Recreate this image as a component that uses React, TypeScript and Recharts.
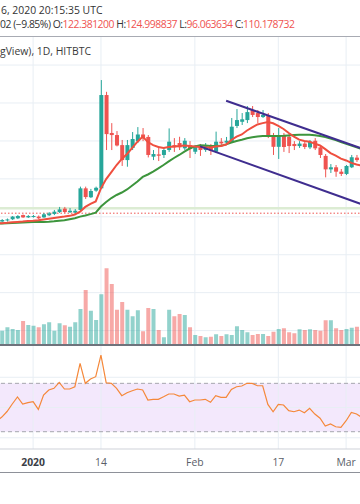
import React from 'react';
import { ComposedChart, Bar, Line, XAxis, YAxis, ReferenceLine, ReferenceArea, Cell } from 'recharts';

// ---------- data ----------
const dates = [
  'Dec 25', 'Dec 26', 'Dec 27', 'Dec 28', 'Dec 29', 'Dec 30', 'Dec 31',
  'Jan 1', 'Jan 2', 'Jan 3', 'Jan 4', 'Jan 5', 'Jan 6', 'Jan 7', 'Jan 8', 'Jan 9', 'Jan 10',
  'Jan 11', 'Jan 12', 'Jan 13', 'Jan 14', 'Jan 15', 'Jan 16', 'Jan 17', 'Jan 18', 'Jan 19', 'Jan 20',
  'Jan 21', 'Jan 22', 'Jan 23', 'Jan 24', 'Jan 25', 'Jan 26', 'Jan 27', 'Jan 28', 'Jan 29', 'Jan 30', 'Jan 31',
  'Feb 1', 'Feb 2', 'Feb 3', 'Feb 4', 'Feb 5', 'Feb 6', 'Feb 7', 'Feb 8', 'Feb 9', 'Feb 10',
  'Feb 11', 'Feb 12', 'Feb 13', 'Feb 14', 'Feb 15', 'Feb 16', 'Feb 17', 'Feb 18', 'Feb 19', 'Feb 20',
  'Feb 21', 'Feb 22', 'Feb 23', 'Feb 24', 'Feb 25', 'Feb 26', 'Feb 27', 'Feb 28', 'Feb 29',
  'Mar 1', 'Mar 2', 'Mar 3', 'Mar 4',
];

const opens = [
  77.3, 77.5, 78.1, 78.7, 79.2, 80.9, 79.7,
  80.0, 80.1, 79.7, 80.8, 81.5, 82.5, 84.3, 82.4, 82.2, 83.6,
  95.0, 90.3, 93.8, 95.0, 144.2, 124.2, 123.1, 117.8, 109.9, 116.3,
  119.9, 123.4, 122.1, 111.7, 112.9, 112.6, 115.2, 117.8, 118.9, 116.1, 117.8,
  114.3, 116.8, 115.2, 117.3, 114.3, 119.6, 119.1, 119.6, 127.9, 130.1,
  131.0, 136.3, 134.7, 132.6, 133.1, 122.2, 116.9, 122.6, 122.1, 118.4,
  117.3, 118.6, 116.6, 120.1, 116.6, 112.1, 105.0, 106.1, 103.8,
  102.6, 106.1, 111.2, 111.5,
];
const highs = [
  78.3, 78.8, 79.1, 80.4, 80.9, 81.2, 80.9,
  80.9, 80.7, 82.0, 82.5, 83.6, 85.2, 85.2, 84.6, 84.1, 95.9,
  95.9, 94.7, 95.9, 152.1, 145.9, 129.4, 125.2, 120.5, 120.5, 124.7,
  127.3, 126.8, 123.1, 115.2, 117.3, 116.8, 126.6, 121.5, 122.2, 121.5, 119.9,
  117.8, 118.4, 118.9, 118.4, 124.9, 121.5, 122.1, 132.1, 136.8, 134.7,
  138.4, 138.4, 136.3, 136.3, 134.7, 124.2, 126.8, 124.2, 123.6, 119.9,
  119.9, 119.9, 120.5, 121.5, 117.3, 113.1, 107.8, 107.3, 105.2,
  107.3, 112.6, 112.6, 113.1,
];
const lows = [
  76.7, 77.3, 77.5, 78.3, 78.8, 79.4, 79.4,
  79.6, 78.8, 79.4, 80.4, 80.9, 82.0, 82.0, 82.0, 81.7, 83.1,
  89.4, 89.9, 93.2, 94.7, 115.2, 115.2, 117.1, 106.8, 106.4, 115.2,
  118.9, 119.9, 111.3, 109.9, 109.4, 111.0, 114.2, 114.2, 115.2, 115.2, 111.0,
  113.1, 112.1, 114.2, 112.6, 113.6, 117.8, 118.4, 118.9, 126.8, 128.4,
  129.4, 132.6, 129.4, 132.1, 121.5, 112.6, 110.5, 114.2, 113.6, 115.2,
  116.3, 115.7, 115.7, 115.2, 111.0, 100.8, 103.1, 101.1, 101.5,
  102.0, 105.7, 108.9, 108.9,
];
const closes = [
  77.8, 78.3, 78.6, 80.1, 80.4, 79.7, 80.4,
  80.4, 79.2, 81.3, 81.8, 82.7, 83.9, 82.5, 83.2, 83.2, 95.0,
  90.4, 93.6, 95.3, 144.2, 123.6, 123.1, 117.6, 109.9, 117.8, 121.0,
  123.4, 121.3, 112.6, 113.1, 112.2, 115.2, 119.6, 116.6, 116.6, 120.1, 115.7,
  116.8, 115.2, 117.3, 114.7, 119.6, 118.7, 120.1, 127.5, 131.0, 131.4,
  135.2, 133.7, 132.6, 133.7, 122.2, 116.9, 122.6, 116.8, 117.3, 117.3,
  118.6, 116.8, 119.6, 116.1, 112.6, 105.0, 106.1, 103.8, 102.6,
  106.8, 111.4, 109.9, 109.9,
];
const volumes = [
  120, 143, 177, 160, 150, 240, 200,
  193, 177, 207, 227, 143, 217, 197, 183, 227, 360,
  550, 343, 250, 507, 767, 610, 353, 430, 353, 287,
  347, 137, 370, 360, 150, 77, 353, 287, 310, 300, 177,
  100, 90, 77, 83, 107, 90, 107, 100, 187, 150,
  127, 100, 110, 110, 90, 133, 160, 167, 127, 117,
  157, 150, 157, 150, 143, 247, 247, 167, 150,
  160, 173, 183, 150,
];
const emaFast = [
  76.5, 76.6, 76.8, 77.1, 77.3, 77.5, 77.8,
  77.9, 78.2, 78.6, 79.0, 79.4, 79.8, 80.1, 80.5, 81.2, 82.7,
  85.2, 86.8, 88.1, 95.0, 99.9, 103.6, 107.3, 110.5, 113.1, 116.3,
  119.6, 122.3, 119.4, 117.8, 116.8, 116.3, 116.8, 117.1, 117.3, 117.6, 117.3,
  117.1, 116.8, 116.6, 116.6, 117.1, 117.3, 118.1, 120.5, 122.3, 123.4,
  125.5, 127.1, 128.7, 129.4, 130.0, 129.3, 127.9, 126.3, 124.2, 122.3,
  120.7, 120.0, 119.6, 118.6, 117.6, 115.7, 113.6, 112.3, 110.7,
  109.7, 108.4, 107.6, 107.0,
];
const smaSlow = [
  76.3, 76.5, 76.6, 76.7, 76.8, 77.0, 77.1,
  77.2, 77.3, 77.3, 77.4, 77.6, 77.9, 78.2, 78.7, 79.2, 80.1,
  80.7, 81.4, 82.2, 85.4, 87.8, 89.9, 91.5, 92.8, 94.4, 96.5,
  98.6, 101.0, 102.3, 103.8, 105.5, 107.3, 109.2, 111.0, 112.6, 114.4, 116.0,
  117.1, 117.7, 117.6, 117.3, 117.3, 117.4, 118.2, 119.2, 120.0, 120.6,
  121.4, 121.9, 122.3, 122.6, 122.6, 122.6, 122.6, 122.7, 122.9, 123.1,
  123.2, 123.3, 123.3, 123.0, 122.6, 122.0, 121.3, 120.4, 119.4,
  118.5, 117.6, 116.6, 115.8,
];
const rsiValues = [
  38.8, 42.1, 46.7, 52.9, 58.7, 52.9, 54.1,
  54.8, 48.5, 60.3, 64.5, 65.9, 70.8, 65.3, 65.3, 67.2, 86.5,
  70.0, 73.6, 75.5, 93.4, 70.5, 70.0, 65.9, 59.8, 62.2, 63.9,
  65.3, 64.5, 56.2, 56.8, 56.8, 58.9, 61.2, 61.2, 59.5, 60.3, 54.8,
  56.2, 56.2, 56.8, 54.3, 59.8, 58.4, 58.4, 65.0, 67.2, 67.8,
  70.0, 70.0, 68.0, 68.0, 52.6, 46.5, 52.6, 52.1, 47.4, 46.5,
  47.9, 45.7, 49.3, 44.6, 41.1, 34.7, 36.4, 34.1, 33.6,
  39.1, 46.0, 44.6, 41.9,
];

const priceGridValues = [20, 40, 60, 80, 100, 120, 140, 160];
const timeTicks = ['Jan 1', 'Jan 14', 'Feb 1', 'Feb 17', 'Mar 1'];
const timeTickLabels = ['2020', '14', 'Feb', '17', 'Mar'];
const rsiGridValues = [25, 50, 75];
const rsiBandValues = [30, 70];
const upperTrend = [{ date: 'Feb 7', price: 141.2 }, { date: 'Mar 4', price: 116.0 }];
const lowerTrend = [{ date: 'Feb 2', price: 117.1 }, { date: 'Mar 4', price: 86.6 }];
const dottedPriceLevel = 81.9;
const greenBandLevel = 84.5;

const PRICE_DOMAIN = [12.4, 174.8];
const VOLUME_DOMAIN = [0, 3080];
const RSI_DOMAIN = [15.7, 101.7];

const rows = dates.map((d, i) => ({
  date: d,
  open: opens[i],
  high: highs[i],
  low: lows[i],
  close: closes[i],
  volume: volumes[i],
  ema: emaFast[i],
  sma: smaSlow[i],
  rsi: rsiValues[i],
}));

// ---------- styling / layout ----------
const FONT = '"Open Sans", "Noto Sans", sans-serif';
const UP = '#26a69a';
const DOWN = '#ef5350';
const GRID = '#e8eef4';
const EMA_COLOR = '#ef4f3f';
const SMA_COLOR = '#3d953d';
const TREND_COLOR = '#3f2d8f';
const RSI_COLOR = '#f5883a';

const PLOT_LEFT = -5.6;
const PLOT_W = 370.4;
const PRICE_TOP = 37;
const PRICE_H = 308;
const RSI_TOP = 345;
const RSI_H = 104;
const AXIS_H = 24;
const M = { top: 0, right: 0, bottom: 0, left: 0 };

const CandleShape = (props: any) => {
  const { x, y, width, height } = props;
  const d = props.payload ?? props;
  if (x == null || y == null || d == null) return null;
  const top = Math.min(y, y + height);
  const h = Math.abs(height);
  const span = d.high - d.low;
  const ppu = span > 0 ? h / span : 0;
  const color = d.close >= d.open ? UP : DOWN;
  const bodyTop = top + (d.high - Math.max(d.open, d.close)) * ppu;
  const bodyH = Math.max(1, Math.abs(d.close - d.open) * ppu);
  const cx = x + width / 2;
  return (
    <g>
      <line x1={cx} x2={cx} y1={top} y2={top + h} stroke={color} strokeWidth={1} />
      <rect x={x} y={bodyTop} width={width} height={bodyH} fill={color} />
    </g>
  );
};

const TimeTick = (props: any) => {
  const { x, y, payload } = props;
  const idx = timeTicks.indexOf(payload?.value);
  const label = idx >= 0 ? timeTickLabels[idx] : '';
  const bold = label === '2020';
  return (
    <text
      x={x}
      y={y}
      dy="0.71em"
      textAnchor="middle"
      fontSize={10.4}
      fontFamily={FONT}
      fontWeight={bold ? 700 : 400}
      fill={bold ? '#3b3e47' : '#5a5e69'}
    >
      {label}
    </text>
  );
};

const hiddenX = <XAxis dataKey="date" type="category" scale="band" hide />;

export default function App() {
  return (
    <div
      style={{
        position: 'absolute',
        left: 0,
        top: 0,
        width: 360,
        height: 504,
        overflow: 'hidden',
        background: '#ffffff',
        fontFamily: FONT,
      }}
    >
      {/* price pane grid */}
      <div style={{ position: 'absolute', left: PLOT_LEFT, top: PRICE_TOP }}>
        <ComposedChart width={PLOT_W} height={PRICE_H} data={rows} margin={M}>
          {hiddenX}
          <YAxis hide domain={PRICE_DOMAIN} allowDataOverflow type="number" />
          {priceGridValues.map((v) => (
            <ReferenceLine key={'h' + v} y={v} stroke={GRID} strokeWidth={1} />
          ))}
          {timeTicks.map((t) => (
            <ReferenceLine key={'v' + t} x={t} stroke={GRID} strokeWidth={1} />
          ))}
        </ComposedChart>
      </div>

      {/* volume overlay */}
      <div style={{ position: 'absolute', left: PLOT_LEFT, top: PRICE_TOP }}>
        <ComposedChart width={PLOT_W} height={PRICE_H} data={rows} margin={M}>
          {hiddenX}
          <YAxis hide domain={VOLUME_DOMAIN} allowDataOverflow type="number" />
          <Bar dataKey="volume" barSize={4} isAnimationActive={false}>
            {rows.map((r, i) => (
              <Cell key={i} fill={r.close >= r.open ? UP : DOWN} fillOpacity={0.5} />
            ))}
          </Bar>
        </ComposedChart>
      </div>

      {/* price levels */}
      <div style={{ position: 'absolute', left: PLOT_LEFT, top: PRICE_TOP }}>
        <ComposedChart width={PLOT_W} height={PRICE_H} data={rows} margin={M}>
          {hiddenX}
          <YAxis hide domain={PRICE_DOMAIN} allowDataOverflow type="number" />
          <ReferenceLine y={greenBandLevel} stroke="#dcecd3" strokeWidth={2.5} />
          <ReferenceLine y={dottedPriceLevel} stroke={DOWN} strokeWidth={1} strokeDasharray="1.5 2" />
        </ComposedChart>
      </div>

      {/* candles + moving averages */}
      <div style={{ position: 'absolute', left: PLOT_LEFT, top: PRICE_TOP }}>
        <ComposedChart width={PLOT_W} height={PRICE_H} data={rows} margin={M}>
          {hiddenX}
          <YAxis hide domain={PRICE_DOMAIN} allowDataOverflow type="number" />
          <Bar
            dataKey={(r: any) => [r.low, r.high]}
            barSize={4}
            isAnimationActive={false}
            shape={(p: any) => <CandleShape {...p} />}
          />
          <Line dataKey="sma" stroke={SMA_COLOR} strokeWidth={2} dot={false} activeDot={false} isAnimationActive={false} />
          <Line dataKey="ema" stroke={EMA_COLOR} strokeWidth={2} dot={false} activeDot={false} isAnimationActive={false} />
        </ComposedChart>
      </div>

      {/* trend channel */}
      <div style={{ position: 'absolute', left: PLOT_LEFT, top: PRICE_TOP }}>
        <ComposedChart width={PLOT_W} height={PRICE_H} data={rows} margin={M}>
          {hiddenX}
          <YAxis hide domain={PRICE_DOMAIN} allowDataOverflow type="number" />
          <ReferenceLine
            segment={[
              { x: upperTrend[0].date, y: upperTrend[0].price },
              { x: upperTrend[1].date, y: upperTrend[1].price },
            ]}
            stroke={TREND_COLOR}
            strokeWidth={2}
            ifOverflow="visible"
          />
          <ReferenceLine
            segment={[
              { x: lowerTrend[0].date, y: lowerTrend[0].price },
              { x: lowerTrend[1].date, y: lowerTrend[1].price },
            ]}
            stroke={TREND_COLOR}
            strokeWidth={2}
            ifOverflow="visible"
          />
        </ComposedChart>
      </div>

      {/* RSI pane background, grid and time axis */}
      <div style={{ position: 'absolute', left: PLOT_LEFT, top: RSI_TOP }}>
        <ComposedChart width={PLOT_W} height={RSI_H + AXIS_H} data={rows} margin={M}>
          <XAxis
            dataKey="date"
            type="category"
            scale="band"
            ticks={timeTicks}
            interval={0}
            tickLine={false}
            tickSize={6}
            tickMargin={4}
            height={AXIS_H}
            axisLine={{ stroke: '#cfd2d9' }}
            tick={(p: any) => <TimeTick {...p} />}
          />
          <YAxis hide domain={RSI_DOMAIN} allowDataOverflow type="number" />
          <ReferenceArea y1={rsiBandValues[0]} y2={rsiBandValues[1]} fill="#f3e8fc" fillOpacity={1} stroke="none" />
          {rsiGridValues.map((v) => (
            <ReferenceLine key={'rg' + v} y={v} stroke={GRID} strokeWidth={1} />
          ))}
          {timeTicks.map((t) => (
            <ReferenceLine key={'rv' + t} x={t} stroke={GRID} strokeWidth={1} />
          ))}
          {rsiBandValues.map((v) => (
            <ReferenceLine key={'rb' + v} y={v} stroke="#a5a6ad" strokeWidth={1} strokeDasharray="4 3" />
          ))}
        </ComposedChart>
      </div>

      {/* RSI line */}
      <div style={{ position: 'absolute', left: PLOT_LEFT, top: RSI_TOP }}>
        <ComposedChart width={PLOT_W} height={RSI_H} data={rows} margin={M}>
          {hiddenX}
          <YAxis hide domain={RSI_DOMAIN} allowDataOverflow type="number" />
          <Line dataKey="rsi" stroke={RSI_COLOR} strokeWidth={1.2} dot={false} activeDot={false} isAnimationActive={false} />
        </ComposedChart>
      </div>

      {/* separators */}
      <div style={{ position: 'absolute', left: 0, top: 36, width: 360, height: 1, background: '#a8abb3' }} />
      <div style={{ position: 'absolute', left: 0, top: 344, width: 360, height: 2, background: '#6f737c' }} />
      <div style={{ position: 'absolute', left: 0, top: 472, width: 360, height: 1, background: '#8e9199' }} />

      {/* header / legend text */}
      <div style={{ position: 'absolute', left: 1, top: 3, fontSize: 10.4, lineHeight: '14px', color: '#333', whiteSpace: 'nowrap' }}>
        6, 2020 20:15:35 UTC
      </div>
      <div
        style={{
          position: 'absolute',
          left: 0,
          top: 17,
          fontSize: 10.4,
          lineHeight: '14px',
          letterSpacing: '-0.48px',
          color: '#333',
          whiteSpace: 'nowrap',
        }}
      >
        02 (−9.85%) O:<span style={{ color: DOWN }}>122.381200</span> H:<span style={{ color: DOWN }}>124.998837</span>{' '}
        L:<span style={{ color: DOWN }}>96.063634</span> C:<span style={{ color: DOWN }}>110.178732</span>
      </div>
      <div style={{ position: 'absolute', left: 0, top: 44, fontSize: 10.4, lineHeight: '14px', color: '#3a3a3a', whiteSpace: 'nowrap' }}>
        gView), 1D, HITBTC
      </div>
    </div>
  );
}
